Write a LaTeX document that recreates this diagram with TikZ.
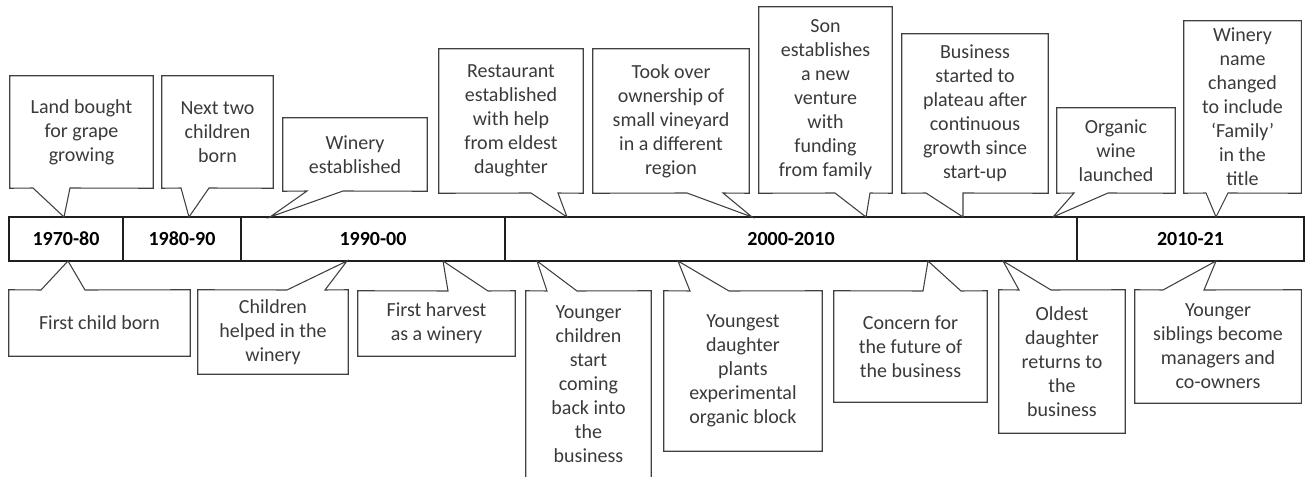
\documentclass[tikz,border=0pt]{standalone}
\usepackage{fontspec}
\setmainfont{Carlito}
\definecolor{edge}{HTML}{404040}
\definecolor{txt}{HTML}{3A3A3A}
\tikzset{
  x=0.75pt, y=-0.75pt,
  calbox/.style={draw=none, inner sep=0pt, align=center, text=txt,
    font=\fontsize{15}{18}\selectfont},
  calline/.style={draw=edge, line width=0.8pt, line join=miter},
  seg/.style={draw=black!88, line width=1.6pt, inner sep=0pt,
    minimum height=33pt, font=\bfseries\fontsize{15}{18}\selectfont},
}
% #1 name, #2 x1, #3 y1, #4 x2, #5 y2, #6 base left, #7 base right, #8 tip x, #9 text
\newcommand\calup[9]{%
  \node[calbox, minimum width={(#4-#2)*0.75pt}, minimum height={(#5-#3)*0.75pt}]
    (#1) at ({(#2+#4)/2},{(#3+#5)/2}) {#9};
  \coordinate (#1-tip) at (#8,217);
  \draw[calline] (#1.north west) -- (#1.north east) -- (#1.south east)
    -- (#7,#5) -- (#1-tip) -- (#6,#5) -- (#1.south west) -- cycle;
}
\newcommand\caldn[9]{%
  \node[calbox, minimum width={(#4-#2)*0.75pt}, minimum height={(#5-#3)*0.75pt}]
    (#1) at ({(#2+#4)/2},{(#3+#5)/2}) {#9};
  \coordinate (#1-tip) at (#8,261);
  \draw[calline] (#1.south west) -- (#1.north west) -- (#6,#3)
    -- (#1-tip) -- (#7,#3) -- (#1.north east) -- (#1.south east) -- cycle;
}
\begin{document}
\begin{tikzpicture}
\clip (0,0) rectangle (1306,477);
% timeline bar
\node[seg, minimum width={114*0.75pt}] (s1) at (66,239) {1970-80};
\node[seg, minimum width={118*0.75pt}] (s2) at (182,239) {1980-90};
\node[seg, minimum width={264*0.75pt}] (s3) at (373,239) {1990-00};
\node[seg, minimum width={572*0.75pt}] (s4) at (791,239) {2000-2010};
\node[seg, minimum width={227*0.75pt}] (s5) at (1190.5,239) {2010-21};
% callouts above
\calup{u1}{10}{76}{153}{188}{33}{70}{64}{Land bought\\for grape\\growing}
\calup{u2}{162}{76}{273}{188}{181}{209}{189}{Next two\\children\\born}
\calup{u3}{283}{118}{427}{191}{307}{343}{270}{Winery\\established}
\calup{u4}{439}{49}{583}{193}{531}{558}{567}{Restaurant\\established\\with help\\from eldest\\daughter}
\calup{u5}{593}{49}{749}{193}{687}{723}{752}{Took over\\ownership of\\small vineyard\\in a different\\region}
\calup{u6}{759}{7}{892}{193}{835}{870}{866}{Son\\establishes\\a new\\venture\\with\\funding\\from family}
\calup{u7}{902}{34}{1048}{193}{926}{963}{963}{Business\\started to\\plateau after\\continuous\\growth since\\start-up}
\calup{u8}{1057}{108}{1175}{193}{1074}{1108}{1053}{Organic\\wine\\launched}
\calup{u9}{1184}{21}{1301}{193}{1206}{1228}{1216}{Winery\\name\\changed\\to include\\‘Family’\\in the\\title}
% callouts below
\caldn{d1}{9}{290}{190}{356}{41}{85}{68}{First child born}
\caldn{d2}{198}{290}{348}{374}{287}{325}{347}{Children\\helped in the\\winery}
\caldn{d3}{358}{291}{515}{356}{448}{488}{443}{First harvest\\as a winery}
\caldn{d4}{526}{291}{651}{478}{547}{577}{537}{Younger\\children\\start\\coming\\back into\\the\\business}
\caldn{d5}{664}{291}{822}{451}{690}{729}{678}{Youngest\\daughter\\plants\\experimental\\organic block}
\caldn{d6}{834}{291}{987}{402}{923}{961}{928}{Concern for\\the future of\\the business}
\caldn{d7}{999}{290}{1125}{433}{1019}{1051}{1003}{Oldest\\daughter\\returns to\\the\\business}
\caldn{d8}{1135}{290}{1301}{403}{1163}{1204}{1216}{Younger\\siblings become\\managers and\\co-owners}
\end{tikzpicture}
\end{document}
